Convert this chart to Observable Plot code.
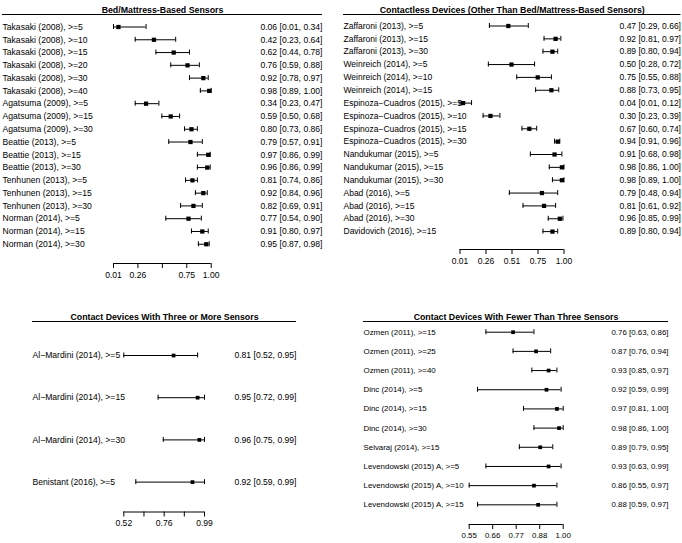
<!DOCTYPE html>
<html><head><meta charset="utf-8">
<script src="https://cdn.jsdelivr.net/npm/d3@7"></script>
<script src="https://cdn.jsdelivr.net/npm/@observablehq/plot@0.6"></script>
<style>
html,body{margin:0;padding:0;background:#fff;}
#chart{position:relative;width:682px;height:543px;overflow:hidden;background:#fff;}
#chart > div{position:absolute;}
#chart svg{display:block;overflow:visible;}
</style></head><body><div id="chart"></div>
<script>
// ---- Panel 1: Bed/Mattress-Based Sensors
const bedLabels = ["Takasaki (2008), >=5","Takasaki (2008), >=10","Takasaki (2008), >=15","Takasaki (2008), >=20","Takasaki (2008), >=30","Takasaki (2008), >=40","Agatsuma (2009), >=5","Agatsuma (2009), >=15","Agatsuma (2009), >=30","Beattie (2013), >=5","Beattie (2013), >=15","Beattie (2013), >=30","Tenhunen (2013), >=5","Tenhunen (2013), >=15","Tenhunen (2013), >=30","Norman (2014), >=5","Norman (2014), >=15","Norman (2014), >=30"];
const bedEst = [0.06,0.42,0.62,0.76,0.92,0.98,0.34,0.59,0.80,0.79,0.97,0.96,0.81,0.92,0.82,0.77,0.91,0.95];
const bedLo  = [0.01,0.23,0.44,0.59,0.78,0.89,0.23,0.50,0.73,0.57,0.86,0.86,0.74,0.84,0.69,0.54,0.80,0.87];
const bedHi  = [0.34,0.64,0.78,0.88,0.97,1.00,0.47,0.68,0.86,0.91,0.99,0.99,0.86,0.96,0.91,0.90,0.97,0.98];
const bedTicks = [0.01,0.2575,0.505,0.7525,1.00];
const bedTickLabels = ["0.01","0.26","","0.75","1.00"];

// ---- Panel 2: Contactless Devices
const clLabels = ["Zaffaroni (2013), >=5","Zaffaroni (2013), >=15","Zaffaroni (2013), >=30","Weinreich (2014), >=5","Weinreich (2014), >=10","Weinreich (2014), >=15","Espinoza\u2212Cuadros (2015), >=5","Espinoza\u2212Cuadros (2015), >=10","Espinoza\u2212Cuadros (2015), >=15","Espinoza\u2212Cuadros (2015), >=30","Nandukumar (2015), >=5","Nandukumar (2015), >=15","Nandukumar (2015), >=30","Abad (2016), >=5","Abad (2016), >=15","Abad (2016), >=30","Davidovich (2016), >=15"];
const clEst = [0.47,0.92,0.89,0.50,0.75,0.88,0.04,0.30,0.67,0.94,0.91,0.98,0.98,0.79,0.81,0.96,0.89];
const clLo  = [0.29,0.81,0.80,0.28,0.55,0.73,0.01,0.23,0.60,0.91,0.68,0.86,0.89,0.48,0.61,0.85,0.80];
const clHi  = [0.66,0.97,0.94,0.72,0.88,0.95,0.12,0.39,0.74,0.96,0.98,1.00,1.00,0.94,0.92,0.99,0.94];
const clTicks = [0.01,0.2575,0.505,0.7525,1.00];
const clTickLabels = ["0.01","0.26","0.51","0.75","1.00"];

// ---- Panel 3: Contact Devices With Three or More Sensors
const c3Labels = ["Al\u2212Mardini (2014), >=5","Al\u2212Mardini (2014), >=15","Al\u2212Mardini (2014), >=30","Benistant (2016), >=5"];
const c3Est = [0.81,0.95,0.96,0.92];
const c3Lo  = [0.52,0.72,0.75,0.59];
const c3Hi  = [0.95,0.99,0.99,0.99];
const c3Ticks = [0.52,0.6375,0.755,0.8725,0.99];
const c3TickLabels = ["0.52","","0.76","","0.99"];

// ---- Panel 4: Contact Devices With Fewer Than Three Sensors
const c2Labels = ["Ozmen (2011), >=15","Ozmen (2011), >=25","Ozmen (2011), >=40","Dinc (2014), >=5","Dinc (2014), >=15","Dinc (2014), >=30","Selvaraj (2014), >=15","Levendowski (2015) A, >=5","Levendowski (2015) A, >=10","Levendowski (2015) A, >=15"];
const c2Est = [0.76,0.87,0.93,0.92,0.97,0.98,0.89,0.93,0.86,0.88];
const c2Lo  = [0.63,0.76,0.85,0.59,0.81,0.86,0.79,0.63,0.55,0.59];
const c2Hi  = [0.86,0.94,0.97,0.99,1.00,1.00,0.95,0.99,0.97,0.97];
const c2Ticks = [0.55,0.6625,0.775,0.8875,1.00];
const c2TickLabels = ["0.55","0.66","0.77","0.88","1.00"];

const FONT = "'Liberation Sans', Arial, Helvetica, sans-serif";

function panel(cfg) {
  const rows = cfg.labels.map((label, i) => ({
    i, label, est: cfg.est[i], lo: cfg.lo[i], hi: cfg.hi[i],
    ci: `${cfg.est[i].toFixed(2)} [${cfg.lo[i].toFixed(2)}, ${cfg.hi[i].toFixed(2)}]`
  }));
  const headIdx = (cfg.headerY - cfg.firstY) / cfg.spacing;
  const axisIdx = (cfg.axisY - cfg.firstY) / cfg.spacing;
  const x0 = cfg.ticks[0], x1 = cfg.ticks[cfg.ticks.length - 1];
  const fmt = new Map(cfg.ticks.map((t, k) => [t, cfg.tickLabels[k]]));
  const fs = cfg.fontSize;
  const svg = Plot.plot({
    width: cfg.width, height: cfg.height,
    marginLeft: cfg.labelX, marginRight: cfg.width - cfg.estRight,
    marginTop: cfg.headerY, marginBottom: cfg.height - cfg.axisY,
    style: {fontFamily: FONT, fontSize: fs + "px", color: "#000", background: "transparent", overflow: "visible"},
    x: {domain: [x0, x1], range: cfg.xRange, label: null},
    y: {domain: [headIdx, axisIdx], range: [cfg.headerY, cfg.axisY], axis: null},
    marks: [
      Plot.ruleY([headIdx], {stroke: "#000", strokeWidth: 1}),
      Plot.ruleY([axisIdx], {x1: () => x0, x2: () => x1, stroke: "#000"}),
      Plot.axisX({anchor: "bottom", ticks: cfg.ticks, tickFormat: d => fmt.get(d), tickSize: 5, tickPadding: 3, label: null, stroke: "#000", fontSize: fs}),
      Plot.ruleY(rows, {y: "i", x1: "lo", x2: "hi", stroke: "#000"}),
      Plot.ruleX(rows, {x: "lo", y1: "i", y2: "i", insetTop: -2.5, insetBottom: -2.5, stroke: "#000"}),
      Plot.ruleX(rows, {x: "hi", y1: "i", y2: "i", insetTop: -2.5, insetBottom: -2.5, stroke: "#000"}),
      Plot.dot(rows, {x: "est", y: "i", symbol: "square", r: cfg.r, fill: "#000", stroke: null}),
      Plot.text(rows, {y: "i", text: "label", frameAnchor: "left", textAnchor: "start", fill: "#000", fontSize: fs}),
      Plot.text(rows, {y: "i", text: "ci", frameAnchor: "right", textAnchor: "end", fill: "#000", fontSize: fs}),
      Plot.text([cfg.title], {frameAnchor: "top", dy: -8, fontWeight: "bold", fontSize: 8.8, fill: "#000"})
    ]
  });
  const wrap = document.createElement("div");
  wrap.style.left = cfg.left + "px";
  wrap.style.top = cfg.top + "px";
  wrap.appendChild(svg);
  document.getElementById("chart").appendChild(wrap);
}

panel({left: 0, top: 0, width: 341, height: 290, title: "Bed/Mattress-Based Sensors",
  labels: bedLabels, est: bedEst, lo: bedLo, hi: bedHi, ticks: bedTicks, tickLabels: bedTickLabels,
  labelX: 2, estRight: 322, headerY: 14, firstY: 26.5, spacing: 12.78, axisY: 263, xRange: [113, 210.7],
  fontSize: 8.6, r: 2.4});

panel({left: 341, top: 0, width: 341, height: 290, title: "Contactless Devices (Other Than Bed/Mattress-Based Sensors)",
  labels: clLabels, est: clEst, lo: clLo, hi: clHi, ticks: clTicks, tickLabels: clTickLabels,
  labelX: 2, estRight: 339.5, headerY: 14, firstY: 25.5, spacing: 12.85, axisY: 249, xRange: [118.5, 222.5],
  fontSize: 8.5, r: 2.4});

panel({left: 0, top: 290, width: 341, height: 253, title: "Contact Devices With Three or More Sensors",
  labels: c3Labels, est: c3Est, lo: c3Lo, hi: c3Hi, ticks: c3Ticks, tickLabels: c3TickLabels,
  labelX: 32, estRight: 296, headerY: 31, firstY: 65, spacing: 42.2, axisY: 221.5, xRange: [123.3, 204],
  fontSize: 8.6, r: 2.1});

panel({left: 341, top: 290, width: 341, height: 253, title: "Contact Devices With Fewer Than Three Sensors",
  labels: c2Labels, est: c2Est, lo: c2Lo, hi: c2Hi, ticks: c2Ticks, tickLabels: c2TickLabels,
  labelX: 22, estRight: 327, headerY: 31, firstY: 41.7, spacing: 19.18, axisY: 234, xRange: [127.7, 221.7],
  fontSize: 7.9, r: 2.1});
</script>
</body></html>
